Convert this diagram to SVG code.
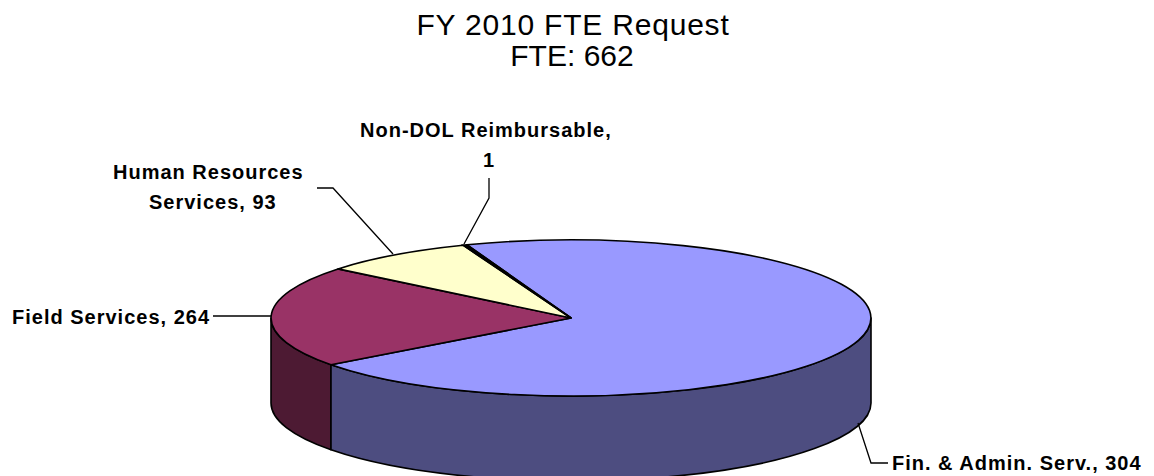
<svg xmlns="http://www.w3.org/2000/svg" width="1154" height="476" viewBox="0 0 1154 476">
<style>
.title{font-family:"Liberation Sans",Arial,sans-serif;font-size:30px;fill:#000}
.lbl{font-family:"Liberation Sans",Arial,sans-serif;font-size:20px;font-weight:bold;letter-spacing:1px;fill:#000}
.edge{stroke:#000;stroke-width:1.6;stroke-linejoin:round}
.lead{fill:none;stroke:#000;stroke-width:1.3}
</style>
<rect width="1154" height="476" fill="#fff"/>
<g id="title">
<text class="title" x="573" y="35" text-anchor="middle" letter-spacing="0.8">FY 2010 FTE Request</text>
<text class="title" x="572" y="66" text-anchor="middle">FTE: 662</text>
</g>
<g id="slice-field">
<path class="edge" fill="#4D1A33" d="M271,318 A300,78 0 0 0 331,364.8 L331,449.8 A300,78 0 0 1 271,403 Z"/>
</g>
<g id="slice-fin">
<path class="edge" fill="#4D4D80" d="M331,364.8 A300,78 0 0 0 871,318 L871,403 A300,78 0 0 1 331,449.8 Z"/>
<path class="edge" fill="#9999FF" d="M571,318 L467,244.8 A300,78 0 1 1 331,364.8 Z"/>
</g>
<g id="slice-field-top">
<path class="edge" fill="#993366" d="M571,318 L331,364.8 A300,78 0 0 1 338,268.9 Z"/>
</g>
<g id="slice-hr">
<path class="edge" fill="#FFFFCC" d="M571,318 L338,268.9 A300,78 0 0 1 463,245.2 Z"/>
</g>
<g id="slice-nondol">
<path stroke="#000" stroke-width="1.6" fill="#000" d="M571,318 L463,245.2 A300,78 0 0 1 467,244.8 Z"/>
</g>
<g id="connectors">
<polyline class="lead" points="489,178 489,198 464,244"/>
<polyline class="lead" points="317,188 333,188 393,254"/>
<polyline class="lead" points="213,316 271,316"/>
<polyline class="lead" points="858,423 871,463 888,463"/>
</g>
<g id="labels">
<text class="lbl" x="360" y="137">Non-DOL Reimbursable,</text>
<text class="lbl" x="489" y="167" text-anchor="middle">1</text>
<text class="lbl" x="113" y="179" letter-spacing="1.7">Human Resources</text>
<text class="lbl" x="149" y="209">Services, 93</text>
<text class="lbl" x="12" y="324">Field Services, 264</text>
<text class="lbl" x="892" y="470">Fin. &amp; Admin. Serv., 304</text>
</g>
</svg>
